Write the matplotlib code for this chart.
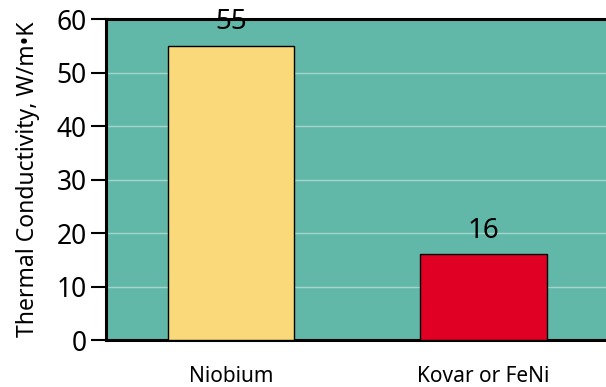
import matplotlib.pyplot as plt

materials = ["Niobium", "Kovar or FeNi"]
conductivity = [55, 16]
bar_colors = ["#F9D97A", "#E00024"]
y_ticks = [0, 10, 20, 30, 40, 50, 60]

plt.rcParams["font.family"] = ["Noto Sans", "DejaVu Sans"]

fig = plt.figure(figsize=(6.06, 3.87), dpi=100)
ax = fig.add_axes([0.175, 0.1214, 0.825, 0.8295])
ax.set_facecolor("#62B8A8")

x = range(len(materials))
bars = ax.bar(x, conductivity, width=0.5, color=bar_colors,
              edgecolor="black", linewidth=1.0, zorder=3)

# value labels sit just above each bar
for bar, val in zip(bars, conductivity):
    ax.annotate(str(val), xy=(bar.get_x() + bar.get_width() / 2, val),
                xytext=(0, 7), textcoords="offset points",
                ha="center", va="bottom", fontsize=20, zorder=4)

ax.set_xlim(-0.495, 1.485)
ax.set_ylim(0, 60)
ax.set_yticks(y_ticks)
ax.set_xticks(list(x))
ax.set_xticklabels(materials, fontsize=15)
ax.tick_params(axis="x", length=0, pad=19)
ax.tick_params(axis="y", length=11, width=1.5, labelsize=19, pad=3)

ax.yaxis.grid(True, color="#A6D5CB", linewidth=1.0, zorder=1)
ax.set_axisbelow(True)

for side in ["left", "top", "bottom"]:
    ax.spines[side].set_linewidth(2.2)
ax.spines["right"].set_visible(False)

ax.set_ylabel("Thermal Conductivity, W/m\u2022K", fontsize=16.5, labelpad=12)

fig.savefig("out.png", dpi=100)
